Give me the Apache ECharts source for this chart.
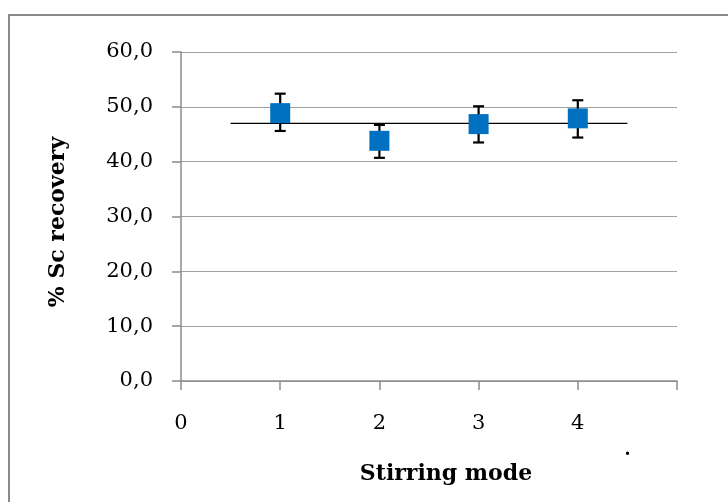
<!DOCTYPE html>
<html><head><meta charset="utf-8">
<script src="https://cdn.jsdelivr.net/npm/echarts@6/dist/echarts.min.js"></script>
<style>html,body{margin:0;padding:0;background:#fff}#c{width:728px;height:502px}</style>
</head><body><div id="c"></div>
<script>
const modes = [1, 2, 3, 4];
const recovery = [48.85, 43.8, 46.85, 47.9];
const errHigh = [52.4, 46.7, 50.1, 51.2];
const errLow = [45.6, 40.7, 43.5, 44.4];
const meanLineX = [0.5, 4.5];
const meanValue = 47.0;
const yTicks = [0, 10, 20, 30, 40, 50, 60];
const xTickLabels = ['0', '1', '2', '3', '4'];
const xTitle = 'Stirring mode';
const yTitle = '% Sc recovery';

const font = 'DejaVu Serif';
const chart = echarts.init(document.getElementById('c'), null, {renderer: 'canvas'});
chart.setOption({
  backgroundColor: '#fff',
  animation: false,
  graphic: [
    {type: 'rect', shape: {x: 9, y: 15, width: 760, height: 540},
     style: {fill: 'none', stroke: '#8a8a8a', lineWidth: 2}, z: 0},
    {type: 'text', x: 446, y: 474,
     style: {text: xTitle, font: 'bold 22px "DejaVu Serif"', fill: '#000', align: 'center', verticalAlign: 'middle'}},
    {type: 'text', x: 58, y: 222, rotation: Math.PI / 2,
     style: {text: yTitle, font: 'bold 22px "DejaVu Serif"', fill: '#000', align: 'center', verticalAlign: 'middle'}},
    {type: 'text', left: 625, top: 440, style: {text: '.', font: 'bold 20px "Liberation Serif"', fill: '#000'}}
  ],
  grid: {left: 181, right: 51, top: 52, bottom: 121},
  xAxis: {
    type: 'value', min: 0, max: 5, interval: 1,
    axisLine: {onZero: false, lineStyle: {color: '#8c8c8c', width: 1.5}},
    axisTick: {show: true, length: 9, lineStyle: {color: '#8c8c8c', width: 1.5}},
    axisLabel: {fontFamily: font, fontSize: 21, color: '#000', margin: 32,
      formatter: v => (v < xTickLabels.length ? xTickLabels[v] : '')},
    splitLine: {show: false}
  },
  yAxis: {
    type: 'value', min: yTicks[0], max: yTicks[yTicks.length - 1], interval: 10,
    axisLine: {show: true, lineStyle: {color: '#8c8c8c', width: 1.5}},
    axisTick: {show: true, length: 9, lineStyle: {color: '#8c8c8c', width: 1.5}},
    axisLabel: {fontFamily: font, fontSize: 21, color: '#000', margin: 28,
      formatter: v => v.toFixed(1).replace('.', ',')},
    splitLine: {show: true, lineStyle: {color: '#a0a0a0', width: 1.2}}
  },
  series: [
    {
      type: 'line', data: meanLineX.map(x => [x, meanValue]),
      symbol: 'none', lineStyle: {color: '#000', width: 1.3}, z: 2
    },
    {
      type: 'custom', z: 3,
      data: modes.map((m, i) => [m, errLow[i], errHigh[i]]),
      renderItem: function (params, api) {
        const x = api.value(0);
        const lo = api.coord([x, api.value(1)]);
        const hi = api.coord([x, api.value(2)]);
        const cw = 5.5;
        const st = {stroke: '#000', lineWidth: 2.2};
        return {type: 'group', children: [
          {type: 'line', shape: {x1: lo[0], y1: lo[1], x2: hi[0], y2: hi[1]}, style: st},
          {type: 'line', shape: {x1: lo[0] - cw, y1: lo[1], x2: lo[0] + cw, y2: lo[1]}, style: st},
          {type: 'line', shape: {x1: hi[0] - cw, y1: hi[1], x2: hi[0] + cw, y2: hi[1]}, style: st}
        ]};
      }
    },
    {
      type: 'scatter', z: 4,
      data: modes.map((m, i) => [m, recovery[i]]),
      symbol: 'rect', symbolSize: 20,
      itemStyle: {color: '#0070c0', opacity: 1}
    }
  ]
});
</script></body></html>
